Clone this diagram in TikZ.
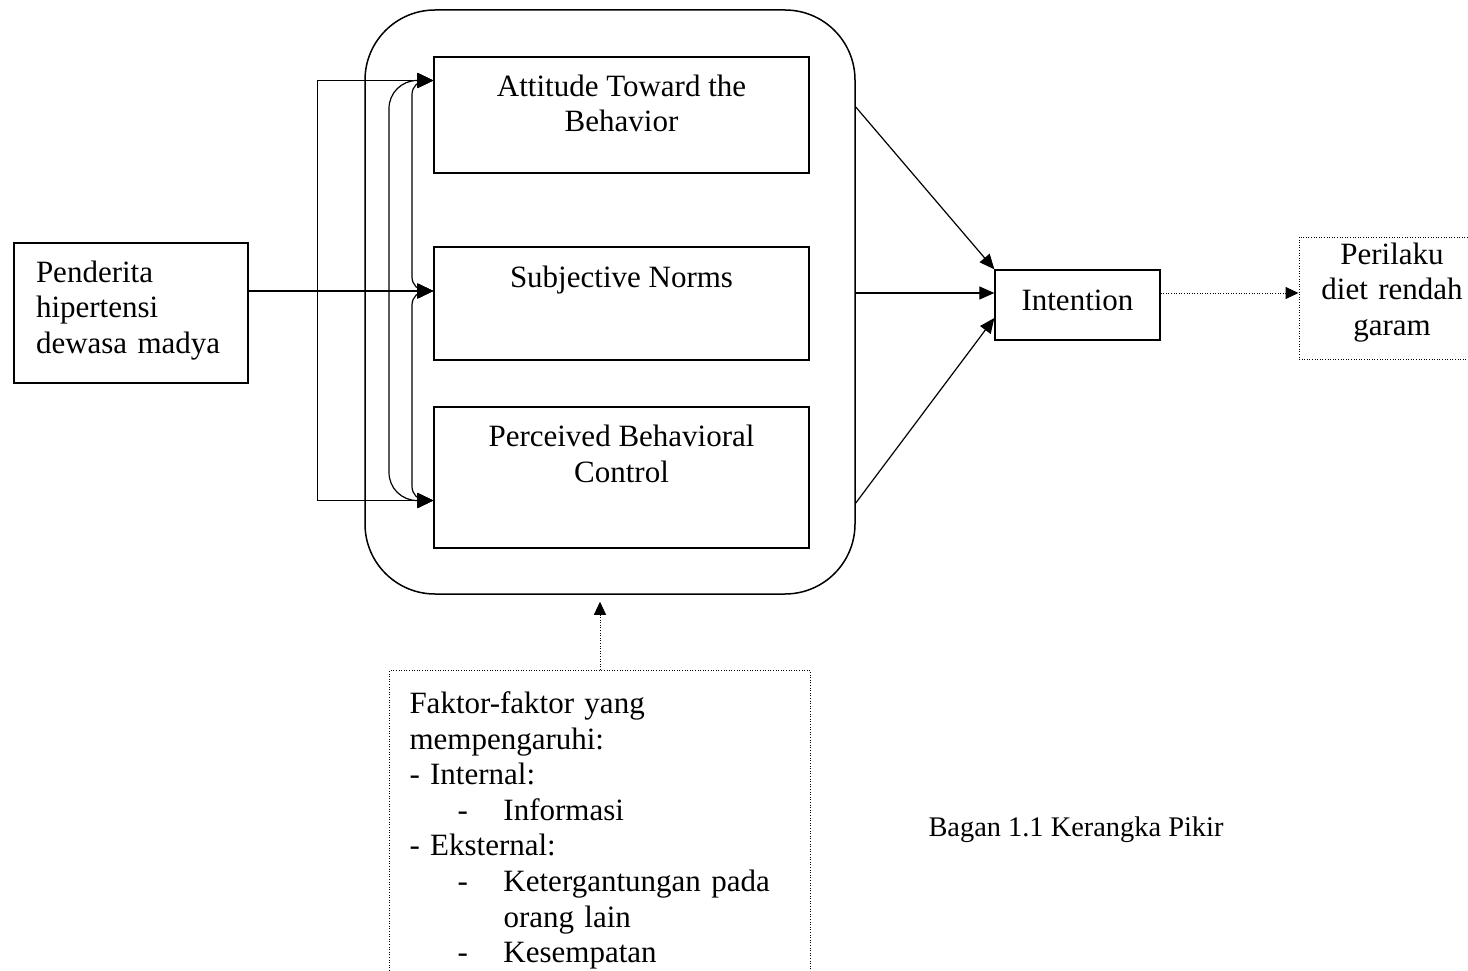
\documentclass[tikz,border=0pt]{standalone}
\usepackage{fontspec}
\setmainfont{Liberation Serif}
\usetikzlibrary{arrows.meta,calc}
\begin{document}
\begin{tikzpicture}[x=1pt,y=-1pt,
  font=\fontsize{31}{35.6}\selectfont,
  box/.style={draw, line width=1.3pt, inner sep=0pt, align=center},
  dotln/.style={line width=1pt, dash pattern=on 1pt off 1.6pt},
  arr/.style={line width=1.2pt, -{Triangle[length=16pt,width=15pt]}},
  thinarr/.style={line width=0.8pt, -{Triangle[length=16pt,width=15pt]}},
  dblarr/.style={line width=1.2pt, {Triangle[length=16pt,width=15pt]}-{Triangle[length=16pt,width=15pt]}},
  arrtwo/.style={line width=1.2pt, -{Triangle[length=15pt,width=13pt]}},
  dotarr/.style={dotln, -{Triangle[length=13pt,width=12pt]}}
]
\useasboundingbox (0,0) rectangle (1468,971);

% big rounded container
\node[draw, line width=1.5pt, rounded corners=70pt, minimum width=490pt, minimum height=584pt] (big) at (610,302) {};

% inner boxes
\node[box, minimum width=375pt, minimum height=116pt, text height=58pt, text depth=24pt] (att) at (621.5,115) {Attitude Toward the\\Behavior};
\node[box, minimum width=375pt, minimum height=113pt, text height=22pt, text depth=55pt] (subj) at (621.5,303.5) {Subjective Norms};
\node[box, minimum width=375pt, minimum height=141pt, text height=58pt, text depth=49pt] (perc) at (621.5,477.5) {Perceived Behavioral\\Control};

% left box
\node[box, minimum width=234pt, minimum height=140pt, text width=190pt, align=left, text height=22pt, text depth=84pt] (pend) at (131,313) {Penderita\\hipertensi\\dewasa madya};

% intention
\node[box, minimum width=165pt, minimum height=70pt, text height=22pt, text depth=12pt] (int) at (1077.5,305) {Intention};

% perilaku
\node[draw, dotln, inner sep=0pt, align=center, minimum width=186pt, minimum height=122pt, text width=170pt, text height=22pt, text depth=90pt] (peri) at (1392,298) {Perilaku\\diet rendah\\garam};

% faktor box
\node[draw, dotln, anchor=north west, inner xsep=20pt, inner ysep=21pt, text width=381pt, align=left, text height=22pt] (fak) at (389,670) {Faktor-faktor yang\\mempengaruhi:\\- Internal:\\\hspace*{48pt}\makebox[46pt][l]{-}Informasi\\- Eksternal:\\\hspace*{48pt}\makebox[46pt][l]{-}Ketergantungan pada\\\hspace*{94pt}orang lain\\\hspace*{48pt}\makebox[46pt][l]{-}Kesempatan};

% caption
\node[font=\fontsize{28.4}{34}\selectfont] (cap) at (1076,830) {Bagan 1.1 Kerangka Pikir};

% coordinates for connector ends
\coordinate (sN) at ([yshift=12.5pt]subj.west);
\coordinate (aW) at ([yshift=34.5pt]att.west);
\coordinate (pW) at ([yshift=-23pt]perc.west);
\path (sN) ++(-116,0) coordinate (jn);
\coordinate (iM) at ([yshift=12pt]int.west);
\coordinate (bS) at ([yshift=-7pt]big.south);

% left connectors
\draw[arr] (pend.east |- sN) -- (sN);
\draw[thinarr] (jn) |- (aW);
\draw[arr] (jn) |- (pW);
\draw[dblarr, rounded corners=28pt] (aW) -| (389,300) |- (pW);
\draw[dblarr, rounded corners=14pt] (aW) -| (412,190) |- (sN);
\draw[dblarr, rounded corners=14pt] (sN) -| (412,400) |- (pW);

% right connectors
\draw[arrtwo] ([yshift=195pt]big.east) -- (int.north west);
\draw[arrtwo] (big.east |- iM) -- (iM);
\draw[arrtwo] ([yshift=-201pt]big.east) -- ([yshift=-13pt]int.west);

% dotted connectors
\draw[dotarr] (int.east |- iM) -- (peri.west |- iM);
\draw[dotarr] (fak.north) -- (fak.north |- bS);
\end{tikzpicture}
\end{document}
